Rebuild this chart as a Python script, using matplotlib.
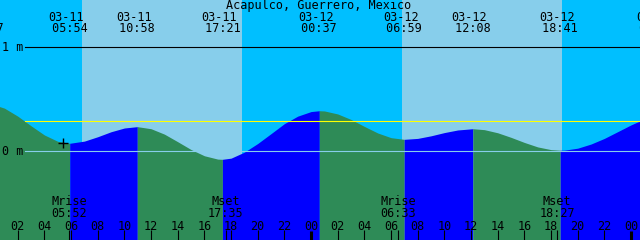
import numpy as np
import matplotlib
matplotlib.use("Agg")
import matplotlib.pyplot as plt
from matplotlib import transforms

# ---------------- data ----------------
title = "Acapulco, Guerrero, Mexico"

# tide curve: hours since 03-11 00:00 local, height in metres
tide_hours = [0, 1, 2, 3, 4, 5, 5.9,
              7, 8, 9, 10, 10.967,
              12, 13, 14, 15, 16, 17, 17.35,
              18, 19, 20, 21, 22, 23, 24, 24.617,
              25, 26, 27, 28, 29, 30, 30.983,
              32, 33, 34, 35, 36.133,
              37, 38, 39, 40, 41, 42, 42.683,
              43, 44, 45, 46, 47, 48, 49]
tide_heights = [0.456, 0.415, 0.338, 0.245, 0.157, 0.096, 0.077,
                0.098, 0.140, 0.188, 0.224, 0.237,
                0.217, 0.165, 0.092, 0.017, -0.043, -0.075, -0.077,
                -0.066, -0.008, 0.075, 0.170, 0.266, 0.338, 0.382, 0.390,
                0.388, 0.359, 0.306, 0.239, 0.176, 0.131, 0.115,
                0.124, 0.149, 0.180, 0.205, 0.217,
                0.208, 0.178, 0.134, 0.085, 0.042, 0.016, 0.010,
                0.011, 0.030, 0.070, 0.124, 0.189, 0.254, 0.311]

# high / low tide events (top labels)
event_hours = [-0.40, 5.9, 10.967, 17.35, 24.617, 30.983, 36.133, 42.683, 49.95]
event_dates = ["03-10", "03-11", "03-11", "03-11", "03-12", "03-12", "03-12", "03-12", "03-13"]
event_times = ["23:37", "05:54", "10:58", "17:21", "00:37", "06:59", "12:08", "18:41", "01:57"]

# daylight
sunrise_hours = [6.79, 30.79]
sunset_hours = [18.79, 42.79]

# moon events (bottom labels)
moon_hours = [5.867, 17.583, 30.55, 42.45]
moon_names = ["Mrise", "Mset", "Mrise", "Mset"]
moon_times = ["05:52", "17:35", "06:33", "18:27"]

hour_ticks = list(range(2, 49, 2))
now_hour, now_height = 5.42, 0.077
mark_level = 0.295
level_lines = [1.0, 0.0]
level_labels = ["1 m", "0 m"]

# ---------------- style ----------------
NIGHT = "#00BFFF"
DAY = "#87CEEB"
RISE = "#0000FF"
FALL = "#2E8B57"
FONT = dict(family="DejaVu Sans Mono", fontsize=8.5, color="black")

W, H = 640, 240
T0 = 0.67
XMAX = T0 + 48
HTOP = 151.3 / 104.0
HBOT = (151.3 - 240) / 104.0

fig = plt.figure(figsize=(6.4, 2.4), dpi=100)
ax = fig.add_axes([0, 0, 1, 1])
ax.set_xlim(T0, XMAX)
ax.set_ylim(HBOT, HTOP)
ax.axis("off")
fig.patch.set_facecolor(NIGHT)
ax.add_patch(plt.Rectangle((0, 0), 1, 1, transform=ax.transAxes, color=NIGHT, zorder=-5))

for r, s in zip(sunrise_hours, sunset_hours):
    ax.axvspan(r, s, color=DAY, lw=0, zorder=0)

# tide fill, coloured by rising / falling
t = np.array(tide_hours)
h = np.array(tide_heights)
d = np.sign(np.diff(h))
start = 0
for i in range(1, len(d) + 1):
    if i == len(d) or d[i] != d[start]:
        seg = slice(start, i + 1)
        ax.fill_between(t[seg], h[seg], HBOT, color=RISE if d[start] > 0 else FALL,
                        lw=0, antialiased=False, zorder=1)
        start = i

# level lines
x0 = 25 / W
ax.axhline(level_lines[0], xmin=x0, xmax=1, color="black", lw=0.8, zorder=2)
ax.axhline(level_lines[1], xmin=x0, xmax=1, color=DAY, lw=0.8, zorder=2)
ax.axhline(mark_level, xmin=x0, xmax=1, color="yellow", lw=0.8, zorder=2)
ylab_tr = transforms.blended_transform_factory(ax.transAxes, ax.transData)
for lv, lab in zip(level_lines, level_labels):
    ax.text(1.5 / W, lv, lab, transform=ylab_tr, ha="left", va="center", zorder=3, **FONT)

# now marker
ax.plot([now_hour], [now_height], marker="+", ms=7, mew=1, color="black", zorder=3)

# title
ax.text(0.5 - 1 / W, 1 - 6 / H, title, transform=ax.transAxes, ha="center", va="center", **FONT)

blend = transforms.blended_transform_factory(ax.transData, ax.transAxes)
evt_tr = transforms.offset_copy(blend, fig=fig, x=-3.5, y=0, units="dots")

# two-line labels; the padded time line sits half a character right of the date
for eh, ed, et in zip(event_hours, event_dates, event_times):
    ax.text(eh, 1 - 23 / H, ed + "\n " + et, transform=evt_tr, ha="center", va="center",
            multialignment="center", linespacing=0.86, clip_on=False, **FONT)

for mh, mn, mt in zip(moon_hours, moon_names, moon_times):
    ax.text(mh, 1 - 207.5 / H, mn + "\n" + mt, transform=blend, ha="center", va="center",
            multialignment="center", linespacing=0.95, **FONT)
    ax.vlines(mh, 0, 10 / H, transform=blend, color="black", lw=0.8, zorder=3)

for hr in hour_ticks:
    ax.text(hr, 1 - 226 / H, "%02d" % (hr % 24), transform=blend, ha="center", va="center", **FONT)
    if hr % 24 == 0:
        ax.vlines(hr, 0, 9 / H, transform=blend, color="black", lw=2.2, zorder=3)
    else:
        ax.vlines(hr, 0, 10 / H, transform=blend, color="black", lw=0.8, zorder=3)

fig.savefig("out.png", dpi=100, facecolor=NIGHT)
